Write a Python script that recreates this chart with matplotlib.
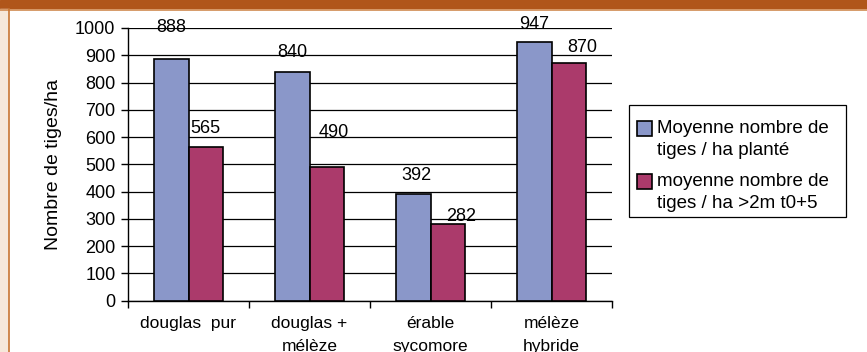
import numpy as np
import matplotlib
matplotlib.use("Agg")
import matplotlib.pyplot as plt
from matplotlib.patches import Rectangle
from matplotlib.lines import Line2D
from matplotlib.legend_handler import HandlerPatch

plt.rcParams['font.family'] = ['Liberation Sans', 'DejaVu Sans']

# données
categories = ["douglas  pur", "douglas +\nmélèze", "érable\nsycomore", "mélèze\nhybride"]
plante = [888, 840, 392, 947]
sup_2m = [565, 490, 282, 870]
series_names = ["Moyenne nombre de\ntiges / ha planté",
                "moyenne nombre de\ntiges / ha >2m t0+5"]
yticks = [0, 100, 200, 300, 400, 500, 600, 700, 800, 900, 1000]

# décalage des étiquettes (pixels) par rapport au haut des barres
off_plante = [(0, 31), (0, 19), (3, 18), (0, 18)]
off_sup = [(0, 18), (7, 35), (13, 7), (13, 16)]

col_blue = "#8a97c9"
col_red = "#ab3a6b"
W, H = 867, 352

fig = plt.figure(figsize=(W / 100, H / 100), dpi=100)
fig.patch.set_facecolor("white")

# bandeau orange en haut et marge beige à gauche
fig.patches.append(Rectangle((0, 1 - 8 / H), 1, 8 / H, transform=fig.transFigure,
                             color="#b0561a", zorder=0))
fig.lines.append(Line2D([0, 1], [1 - 9.5 / H] * 2, transform=fig.transFigure,
                        color="#d08a50", lw=1.2))
fig.patches.append(Rectangle((0, 0), 8 / W, 1 - 9 / H, transform=fig.transFigure,
                             color="#f6e8da", zorder=0))
fig.lines.append(Line2D([8.5 / W] * 2, [0, 1 - 9 / H], transform=fig.transFigure,
                        color="#c87533", lw=1.2))

ax = fig.add_axes([128 / W, 51.3 / H, 484 / W, 272.7 / H])
x = np.arange(len(categories))
w = 1 / 3.5

b1 = ax.bar(x - w / 2, plante, w, color=col_blue, edgecolor="black", lw=1.2,
            label=series_names[0], zorder=3)
b2 = ax.bar(x + w / 2, sup_2m, w, color=col_red, edgecolor="black", lw=1.2,
            label=series_names[1], zorder=3)

for bars, vals, offs in [(b1, plante, off_plante), (b2, sup_2m, off_sup)]:
    for b, v, (dx, dy) in zip(bars, vals, offs):
        ax.annotate(str(v), (b.get_x() + b.get_width() / 2, v),
                    xytext=(dx * 0.72, dy * 0.72), textcoords="offset points",
                    ha="center", va="center", fontsize=13, zorder=4)

ax.set_xlim(-0.5, len(categories) - 0.5)
ax.set_ylim(0, 1000)
ax.set_yticks(yticks)
ax.yaxis.grid(True, color="black", lw=0.9, zorder=0)
ax.set_axisbelow(True)

# graduations entre les catégories, étiquettes au centre
ax.set_xticks(np.arange(-0.5, len(categories)), minor=False)
ax.set_xticklabels([])
ax.set_xticks(x, minor=True)
ax.set_xticklabels(categories, minor=True, fontsize=12.5, linespacing=1.65)
ax.tick_params(axis="x", which="minor", length=0, pad=11)
ax.tick_params(axis="x", which="major", length=5, direction="out", width=1)
ax.tick_params(axis="y", length=5, width=1, labelsize=13, pad=4)

for s in ["top", "right"]:
    ax.spines[s].set_visible(False)
for s in ["left", "bottom"]:
    ax.spines[s].set_color("black")
    ax.spines[s].set_linewidth(1)

ax.set_ylabel("Nombre de tiges/ha", fontsize=14, labelpad=9.5)


# carré de légende aligné sur la première ligne du texte
def square_patch(legend, orig_handle, xdescent, ydescent, width, height, fontsize):
    return Rectangle((-xdescent, -ydescent + 8), width, height)


leg = fig.legend(handles=[b1[0], b2[0]], labels=series_names, loc="upper left",
                 bbox_to_anchor=(637 / W, 1 - 120 / H), fontsize=13.5,
                 frameon=False, handlelength=0.8, handleheight=0.8,
                 handletextpad=0.27, labelspacing=0.75, borderpad=0,
                 borderaxespad=0,
                 handler_map={Rectangle: HandlerPatch(patch_func=square_patch)})
for t in leg.get_texts():
    t.set_linespacing(1.38)

# cadre de la légende
fig.patches.append(Rectangle((629 / W, 1 - 217 / H), 217 / W, 112 / H,
                             transform=fig.transFigure, fill=False,
                             edgecolor="black", lw=0.9, zorder=5))

fig.savefig("out.png", dpi=100)
